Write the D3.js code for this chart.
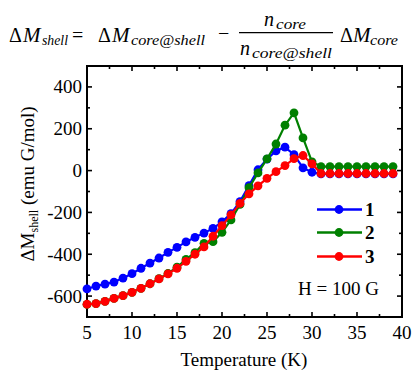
<!DOCTYPE html>
<html><head><meta charset="utf-8">
<script src="https://cdn.jsdelivr.net/npm/d3@7"></script>
<style>
body{margin:0;background:#fff;}
svg{display:block;}
</style></head>
<body><svg id="c" width="413" height="370" font-family="'Liberation Serif', 'Times New Roman', Times, 'DejaVu Serif', serif"></svg>
<script>
const temps = [5,6,7,8,9,10,11,12,13,14,15,16,17,18,19,20,21,22,23,24,25,26,27,28,29,30,31,32,33,34,35,36,37,38,39];
const series1 = [-566,-552,-543,-533,-514,-493,-467,-442,-418,-391,-367,-341,-319,-299,-276,-245,-206,-148,-72,4,55,94,112,76,13,-8,-16,-16,-16,-16,-16,-16,-16,-16,-16];
const series2 = [-640,-636,-625,-611,-598,-582,-563,-541,-517,-492,-462,-425,-392,-348,-340,-295,-236,-162,-82,-11,56,127,217,276,156,42,19,19,19,19,19,19,19,19,19];
const series3 = [-639,-636,-625,-611,-598,-582,-563,-541,-518,-494,-467,-434,-400,-365,-314,-263,-212,-157,-111,-73,-37,-5,24,57,72,32,-14,-14,-14,-14,-14,-14,-14,-14,-14];
const seriesNames = ["1","2","3"];
const seriesColors = ["#0000ff","#008000","#ff0000"];
const xTicks = [5,10,15,20,25,30,35,40];
const yTicks = [-600,-400,-200,0,200,400];
const xLabel = "Temperature (K)";
const annotation = "H = 100 G";

const svg = d3.select("#c");
const L=87,R=402,T=66,B=317;
const x = d3.scaleLinear().domain([5,40]).range([L,R]);
const y = d3.scaleLinear().domain([-700,500]).range([B,T]);

const xMinor = d3.range(5,40.01,2.5);
const yMinor = d3.range(-700,500.01,100);
const g = svg.append("g").attr("stroke","#000").attr("stroke-width",1.6);
xMinor.forEach(v=>{
  const len = xTicks.includes(v)?5:3;
  g.append("line").attr("x1",x(v)).attr("x2",x(v)).attr("y1",B).attr("y2",B-len);
  g.append("line").attr("x1",x(v)).attr("x2",x(v)).attr("y1",T).attr("y2",T+len);
});
yMinor.forEach(v=>{
  const len = yTicks.includes(v)?5:3;
  g.append("line").attr("y1",y(v)).attr("y2",y(v)).attr("x1",L).attr("x2",L+len);
  g.append("line").attr("y1",y(v)).attr("y2",y(v)).attr("x1",R).attr("x2",R-len);
});
svg.append("rect").attr("x",L).attr("y",T).attr("width",R-L).attr("height",B-T)
  .attr("fill","none").attr("stroke","#000").attr("stroke-width",2);

svg.append("g").selectAll("text").data(xTicks).join("text")
  .attr("x",d=>x(d)).attr("y",339).attr("text-anchor","middle")
  .attr("font-size",19).text(d=>d);
svg.append("g").selectAll("text").data(yTicks).join("text")
  .attr("x",82).attr("y",d=>y(d)+6.5).attr("text-anchor","end")
  .attr("font-size",19).text(d=>d);

svg.append("text").attr("x",244).attr("y",366).attr("text-anchor","middle")
  .attr("font-size",19).text(xLabel);

const yt = svg.append("text").attr("transform","translate(34,184) rotate(-90)")
  .attr("text-anchor","middle").attr("font-size",19);
yt.append("tspan").text("ΔM");
yt.append("tspan").attr("font-size",12).attr("dy",4).text("shell");
yt.append("tspan").attr("dy",-4).text(" (emu G/mol)");

const all=[series1,series2,series3];
const line = d3.line().x(d=>x(d[0])).y(d=>y(d[1]));
all.forEach((s,i)=>{
  const pts = temps.map((t,j)=>[t,s[j]]);
  svg.append("path").datum(pts).attr("d",line).attr("fill","none")
    .attr("stroke",seriesColors[i]).attr("stroke-width",2.2);
  svg.append("g").selectAll("circle").data(pts).join("circle")
    .attr("cx",d=>x(d[0])).attr("cy",d=>y(d[1])).attr("r",4.4)
    .attr("fill",seriesColors[i]);
});

const ly=[209.5,232.5,256.5];
seriesNames.forEach((n,i)=>{
  svg.append("line").attr("x1",317).attr("x2",362).attr("y1",ly[i]).attr("y2",ly[i])
    .attr("stroke",seriesColors[i]).attr("stroke-width",2.5);
  svg.append("circle").attr("cx",339).attr("cy",ly[i]).attr("r",4.4).attr("fill",seriesColors[i]);
  svg.append("text").attr("x",365).attr("y",ly[i]+6.5).attr("font-size",19)
    .attr("font-weight","bold").text(n);
});
svg.append("text").attr("x",298).attr("y",295).attr("font-size",19).text(annotation);

// formula
const f = svg.append("g");
function part(xp,yp,size,txt,italic,len){
  const t = f.append("text").attr("x",xp).attr("y",yp).attr("font-size",size)
   .attr("font-style",italic===false?"normal":"italic").text(txt);
  if(len) t.attr("textLength",len).attr("lengthAdjust","spacingAndGlyphs");
}
part(9,42,20,"Δ",false); part(23,42,21,"M",true);
part(42,45,14,"shell",true,26);
part(72,42,20,"=",false);
part(98,42,20,"Δ",false); part(112,42,21,"M",true);
part(131,45,14,"core@shell",true,74);
part(218,40,20,"−",false);
part(264,26,20,"n",true); part(276,29,14,"core",true,30);
f.append("line").attr("x1",239).attr("x2",333).attr("y1",32.7).attr("y2",32.7)
  .attr("stroke","#000").attr("stroke-width",1.2);
part(240,54.5,20,"n",true); part(252,58,14,"core@shell",true,80);
part(340,42,20,"Δ",false); part(353,42,21,"M",true);
part(370,45,14,"core",true,28);
</script></body></html>
